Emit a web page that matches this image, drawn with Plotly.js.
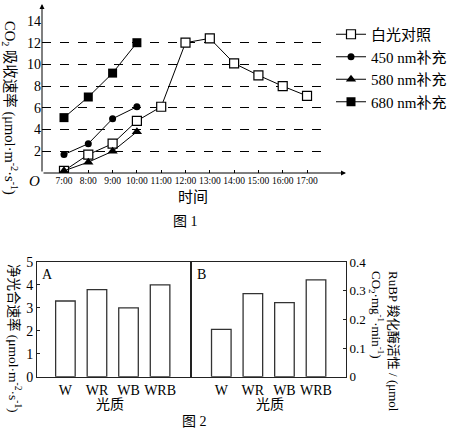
<!DOCTYPE html>
<html><head><meta charset="utf-8">
<script src="https://cdn.plot.ly/plotly-3.0.1.min.js"></script>
<style>html,body{margin:0;padding:0;background:#fff}</style>
</head><body><div id="chart" style="width:459px;height:431px"></div>
<script>
// ---- Figure 1 data ----
const hours = [7, 8, 9, 10, 11, 12, 13, 14, 15, 16, 17];
const hourLabels = ["7:00","8:00","9:00","10:00","11:00","12:00","13:00","14:00","15:00","16:00","17:00"];
const whiteLight = [0.2, 1.7, 2.7, 4.8, 6.1, 12.0, 12.4, 10.1, 9.0, 8.0, 7.1];
const suppHours = [7, 8, 9, 10];
const supp450 = [1.7, 2.7, 5.0, 6.1];
const supp580 = [0.2, 1.0, 2.0, 3.8];
const supp680 = [5.1, 7.0, 9.2, 12.0];
const seriesNames = ["白光对照", "450 nm补充", "580 nm补充", "680 nm补充"];
const yTicks1 = [2, 4, 6, 8, 10, 12, 14];

// ---- Figure 2 data ----
const lightQuality = ["W", "WR", "WB", "WRB"];
const netPhoto = [3.3, 3.8, 3.0, 4.0];
const rubisco = [0.165, 0.29, 0.258, 0.338];

const W = 459, H = 431;
const px = v => v / W;
const py = v => 1 - v / H;
const FONT = "Liberation Serif, 'Noto Sans CJK SC', serif";

const lineStyle = {color: '#000', width: 1};
const traces = [
  {x: hours, y: whiteLight, name: seriesNames[0], mode: 'lines+markers', line: lineStyle,
   marker: {symbol: 'square', size: 9, color: '#fff', line: {color: '#000', width: 1.2}}, xaxis: 'x', yaxis: 'y'},
  {x: suppHours, y: supp450, name: seriesNames[1], mode: 'lines+markers', line: lineStyle,
   marker: {symbol: 'circle', size: 7, color: '#000'}, xaxis: 'x', yaxis: 'y'},
  {x: suppHours, y: supp580, name: seriesNames[2], mode: 'lines+markers', line: lineStyle,
   marker: {symbol: 'triangle-up', size: 9, color: '#000'}, xaxis: 'x', yaxis: 'y'},
  {x: suppHours, y: supp680, name: seriesNames[3], mode: 'lines+markers', line: lineStyle,
   marker: {symbol: 'square', size: 9, color: '#000'}, xaxis: 'x', yaxis: 'y'},
  {type: 'bar', x: lightQuality, y: netPhoto, width: 0.62, showlegend: false,
   marker: {color: '#fff', line: {color: '#333', width: 1.3}}, xaxis: 'x2', yaxis: 'y2'},
  {type: 'bar', x: lightQuality, y: rubisco, width: 0.62, showlegend: false,
   marker: {color: '#fff', line: {color: '#333', width: 1.3}}, xaxis: 'x3', yaxis: 'y3'}
];

const ann = (x, y, text, size, extra) => Object.assign({
  xref: 'paper', yref: 'paper', x: px(x), y: py(y), text: text, showarrow: false,
  font: {family: FONT, size: size, color: '#000'}, xanchor: 'center', yanchor: 'middle'}, extra || {});

const layout = {
  width: W, height: H, margin: {l: 0, r: 0, t: 0, b: 0},
  paper_bgcolor: '#fff', plot_bgcolor: 'rgba(0,0,0,0)',
  font: {family: FONT, color: '#000'},
  showlegend: true,
  legend: {x: px(331), y: py(18), xanchor: 'left', yanchor: 'top', bgcolor: 'rgba(0,0,0,0)',
           font: {family: FONT, size: 15, color: '#000'}, itemwidth: 30, tracegroupgap: 0},
  xaxis: {domain: [px(42), px(325)], range: [6.095, 17.74], tickvals: hours, ticktext: hourLabels,
          ticks: 'inside', ticklen: 3, tickcolor: '#000', showline: false, showgrid: false, zeroline: false,
          tickfont: {family: FONT, size: 9.5}, anchor: 'y'},
  yaxis: {domain: [py(173), py(21)], range: [0, 14], tickvals: yTicks1, showgrid: true, griddash: 'dash',
          gridcolor: '#000', gridwidth: 1, zeroline: false, showline: false, ticks: '',
          tickfont: {family: FONT, size: 14}, anchor: 'x'},
  xaxis2: {domain: [px(37), px(191)], range: [-0.9, 3.98], type: 'category', showline: true, mirror: true,
           linecolor: '#222', linewidth: 1, ticks: '', showgrid: false, zeroline: false,
           tickfont: {family: FONT, size: 14}, anchor: 'y2'},
  yaxis2: {domain: [py(376.7), py(262)], range: [0, 5], dtick: 1, showline: true, mirror: true,
           linecolor: '#222', linewidth: 1, ticks: 'inside', ticklen: 3, tickcolor: '#222',
           showgrid: false, zeroline: false, tickfont: {family: FONT, size: 14}, anchor: 'x2'},
  xaxis3: {domain: [px(191), px(346)], range: [-0.96, 3.95], type: 'category', showline: true, mirror: true,
           linecolor: '#222', linewidth: 1, ticks: '', showgrid: false, zeroline: false,
           tickfont: {family: FONT, size: 14}, anchor: 'y3'},
  yaxis3: {domain: [py(376.7), py(262)], range: [0, 0.4], dtick: 0.1, side: 'right', showline: true, mirror: true,
           linecolor: '#222', linewidth: 1, ticks: 'inside', ticklen: 3, tickcolor: '#222',
           showgrid: false, zeroline: false, tickfont: {family: FONT, size: 13}, anchor: 'x3'},
  annotations: [
    // axis arrows for figure 1
    {xref: 'paper', yref: 'paper', x: px(346), y: py(173), ax: -304, ay: 0, text: '', showarrow: true,
     arrowhead: 2, arrowsize: 1, arrowwidth: 1, arrowcolor: '#000'},
    {xref: 'paper', yref: 'paper', x: px(42), y: py(4), ax: 0, ay: 169, text: '', showarrow: true,
     arrowhead: 2, arrowsize: 1, arrowwidth: 1, arrowcolor: '#000'},
    ann(34, 181, '<i>O</i>', 15),
    ann(10, 108, 'CO<sub>2</sub> 吸收速率 (μmol·m<sup>-2</sup>·s<sup>-1</sup>)', 14.5, {textangle: 90}),
    ann(193, 197, '时间', 15),
    ann(185, 222, '图 1', 14),
    // figure 2
    ann(47, 274, 'A', 14),
    ann(201, 274, 'B', 14),
    ann(15, 338, '净光合速率 (μmol·m<sup>-2</sup>·s<sup>-1</sup>)', 13.5, {textangle: 90}),
    ann(384, 341, 'RuBP 羧化酶活性 / (μmol<br>CO<sub>2</sub>·mg<sup>-1</sup>·min<sup>-1</sup>)', 13,
        {textangle: 90, align: 'left'}),
    ann(110, 404, '光质', 14),
    ann(270, 404, '光质', 14),
    ann(194, 421, '图 2', 14)
  ]
};

Plotly.newPlot('chart', traces, layout, {staticPlot: true, displayModeBar: false});
</script></body></html>
